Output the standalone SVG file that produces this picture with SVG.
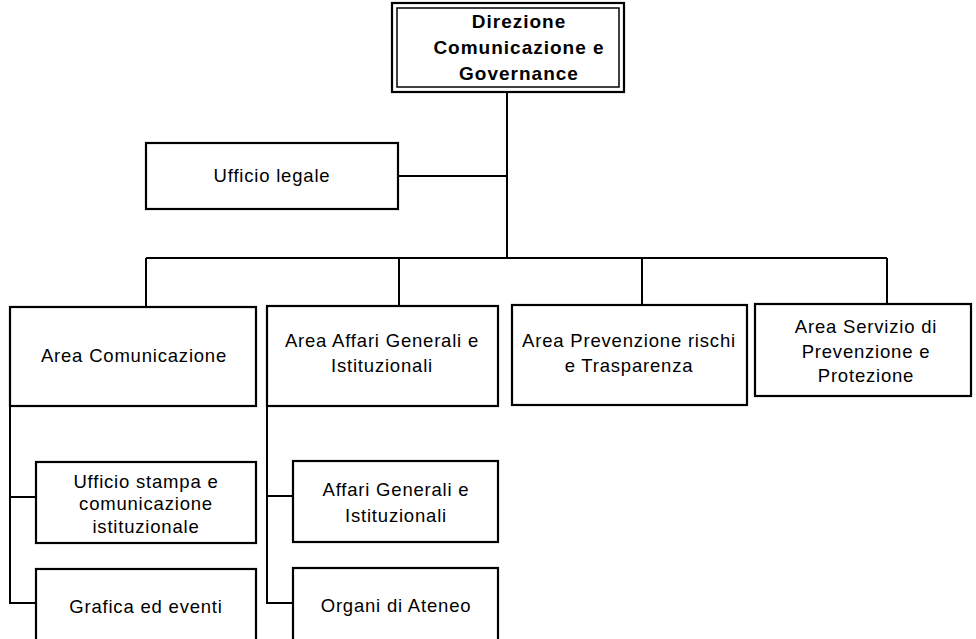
<svg xmlns="http://www.w3.org/2000/svg" width="976" height="639" viewBox="0 0 976 639">
<style>
.box{fill:#fff;stroke:#000;stroke-width:2.2}
.inner{fill:none;stroke:#000;stroke-width:1.5}
.t{font-family:"Liberation Sans",Arial,sans-serif;font-size:18.5px;letter-spacing:0.8px;fill:#000;text-anchor:middle}
.b{font-family:"Liberation Sans",Arial,sans-serif;font-size:19px;font-weight:bold;letter-spacing:1px;fill:#000;text-anchor:middle}
.c{fill:none;stroke:#000;stroke-width:2}
</style>
<rect width="976" height="639" fill="#fff"/>
<g id="connectors">
<path class="c" d="M507 92 V258"/>
<path class="c" d="M398 176 H507"/>
<path class="c" d="M146 258 H887"/>
<path class="c" d="M146 258 V307"/>
<path class="c" d="M399 258 V306"/>
<path class="c" d="M642 258 V305"/>
<path class="c" d="M887 258 V304"/>
<path class="c" d="M10 406 V603 H36"/>
<path class="c" d="M10 497 H36"/>
<path class="c" d="M267 406 V603 H293"/>
<path class="c" d="M267 496 H293"/>
</g>
<g id="direzione">
<rect class="box" x="392" y="3" width="232" height="89"/>
<rect class="inner" x="397" y="8" width="222" height="79"/>
<text class="b" x="519" y="28">Direzione</text>
<text class="b" x="519" y="54">Comunicazione e</text>
<text class="b" x="519" y="80">Governance</text>
</g>
<g id="ufficio-legale">
<rect class="box" x="146" y="143" width="252" height="66"/>
<text class="t" x="272" y="182">Ufficio legale</text>
</g>
<g id="area-comunicazione">
<rect class="box" x="10" y="307" width="246" height="99"/>
<text class="t" x="134" y="362">Area Comunicazione</text>
</g>
<g id="area-affari">
<rect class="box" x="267" y="306" width="231" height="100"/>
<text class="t" x="382" y="347">Area Affari Generali e</text>
<text class="t" x="382" y="372">Istituzionali</text>
</g>
<g id="area-prevenzione">
<rect class="box" x="512" y="305" width="235" height="100"/>
<text class="t" x="629" y="347">Area Prevenzione rischi</text>
<text class="t" x="629" y="372">e Trasparenza</text>
</g>
<g id="area-servizio">
<rect class="box" x="755" y="304" width="216" height="92"/>
<text class="t" x="866" y="333">Area Servizio di</text>
<text class="t" x="866" y="358">Prevenzione e</text>
<text class="t" x="866" y="382">Protezione</text>
</g>
<g id="ufficio-stampa">
<rect class="box" x="36" y="462" width="220" height="81"/>
<text class="t" x="146" y="488">Ufficio stampa e</text>
<text class="t" x="146" y="510">comunicazione</text>
<text class="t" x="146" y="533">istituzionale</text>
</g>
<g id="grafica">
<rect class="box" x="36" y="569" width="220" height="80"/>
<text class="t" x="146" y="613">Grafica ed eventi</text>
</g>
<g id="affari-generali">
<rect class="box" x="293" y="461" width="205" height="81"/>
<text class="t" x="396" y="496">Affari Generali e</text>
<text class="t" x="396" y="522">Istituzionali</text>
</g>
<g id="organi">
<rect class="box" x="293" y="568" width="205" height="80"/>
<text class="t" x="396" y="612">Organi di Ateneo</text>
</g>
</svg>
